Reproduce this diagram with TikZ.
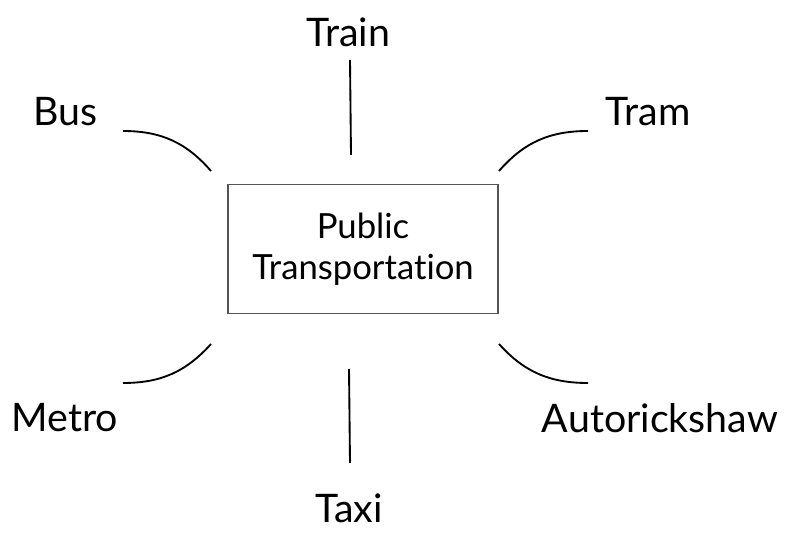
\documentclass[tikz,border=0pt]{standalone}
\usepackage{fontspec}
\setmainfont{Lato}[Ligatures=NoCommon]
\usepackage{xcolor}
\usetikzlibrary{positioning}
\definecolor{boxgray}{RGB}{85, 85, 85}

\begin{document}
\begin{tikzpicture}[
    x=0.75pt, y=0.75pt,
    hub/.style={
      rectangle,
      draw=boxgray,
      line width=1.4pt,
      minimum width=270*0.75pt,
      minimum height=129*0.75pt,
      align=center,
      font=\fontsize{26}{31}\selectfont
    },
    mode/.style={font=\fontsize{29.5}{32}\selectfont, inner sep=0pt},
    link/.style={line width=1.4pt, draw=black}
  ]
    \useasboundingbox (0,0) rectangle (795,534);

    \node[hub] (hub) at (363,285) {Public\\Transportation};

    % transport modes
    \node[mode] (train) at (348,502) {Train};
    \node[mode] (bus) at (65,422) {Bus};
    \node[mode] (tram) at (648,422) {Tram};
    \node[mode] (metro) at (65,116) {Metro};
    \node[mode] (auto) at (660,116) {Autorickshaw};
    \node[mode] (taxi) at (349,26) {Taxi};

    % connector ends
    \coordinate (train-a) at (350,474);
    \coordinate (train-b) at (351,379);
    \coordinate (bus-a) at (123,403);
    \coordinate (bus-b) at (211,363);
    \coordinate (tram-a) at (588,403);
    \coordinate (tram-b) at (499,363);
    \coordinate (metro-a) at (123,151);
    \coordinate (metro-b) at (211,190);
    \coordinate (auto-a) at (588,151);
    \coordinate (auto-b) at (499,190);
    \coordinate (taxi-a) at (349,165);
    \coordinate (taxi-b) at (350,71);

    \draw[link] (train-a) -- (train-b);
    \draw[link] (taxi-a) -- (taxi-b);
    \draw[link] (bus-a) to[out=0, in=131] (bus-b);
    \draw[link] (tram-a) to[out=180, in=49] (tram-b);
    \draw[link] (metro-a) to[out=0, in=228] (metro-b);
    \draw[link] (auto-a) to[out=180, in=312] (auto-b);
  \end{tikzpicture}
\end{document}
